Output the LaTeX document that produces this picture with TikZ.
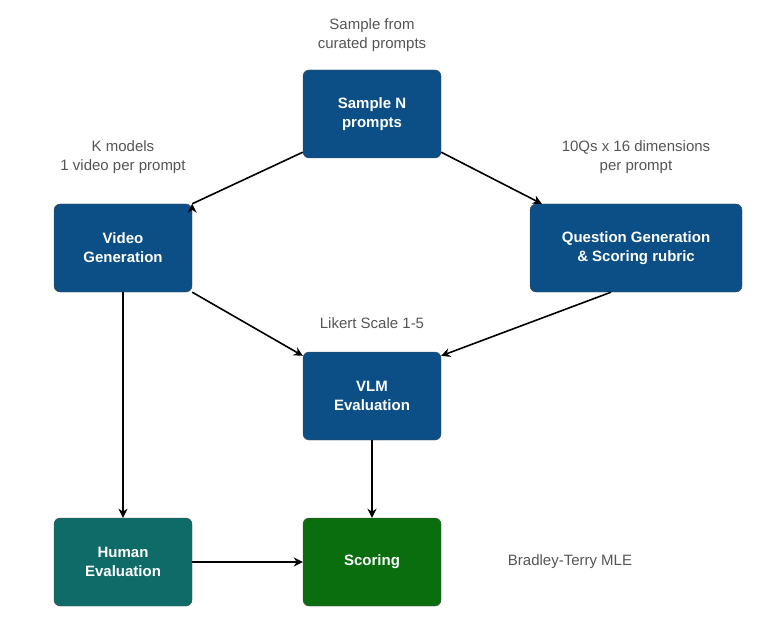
\documentclass[tikz,border=0pt]{standalone}
\usepackage{fontspec}
\setmainfont{Liberation Sans}
\usetikzlibrary{arrows.meta}
\definecolor{boxblue}{HTML}{0B4F86}
\definecolor{boxteal}{HTML}{0F6B68}
\definecolor{boxgreen}{HTML}{0A6E0F}
\definecolor{notegray}{HTML}{555555}
\tikzset{
  stage/.style={draw=black!70,fill=boxblue,rounded corners=6pt,minimum width=138pt,minimum height=88pt,
    text=white,font=\bfseries\fontsize{15}{19}\selectfont,align=center},
  note/.style={text=notegray,font=\fontsize{15}{19}\selectfont,align=center},
  flow/.style={-{Stealth[length=9pt,width=9pt]},line width=1.6pt}
}
\begin{document}
\begin{tikzpicture}[x=1pt,y=1pt]
	\useasboundingbox (0,0) rectangle (762,630);
	
	%Etapes
	\node[stage] (sample) at (372,516) {Sample N\\prompts};
	\node[stage] (video) at (123,382) {Video\\Generation};
	\node[stage,minimum width=212pt] (quest) at (636,382) {Question Generation\\\& Scoring rubric};
	\node[stage] (vlm) at (372,234) {VLM\\Evaluation};
	\node[stage,fill=boxteal] (human) at (123,68) {Human\\Evaluation};
	\node[stage,fill=boxgreen] (score) at (372,68) {Scoring};
	
	%Annotations
	\node[note] (nsample) at (372,595) {Sample from\\curated prompts};
	\node[note] (nvideo) at (123,473) {K models\\1 video per prompt};
	\node[note] (nquest) at (636,473) {10Qs x 16 dimensions\\per prompt};
	\node[note] (nvlm) at (372,307) {Likert Scale 1-5};
	\node[note] (nscore) at (570,68) {Bradley-Terry MLE};
	
	%Fleches
	\draw[flow] (sample.south west) ++(0,6) -- (video.north east) ++(0,0);
	\draw[flow] ([yshift=6pt]sample.south east) -- ([xshift=12pt]quest.north west);
	\draw[flow] (video.south east) -- ([yshift=-4pt]vlm.north west);
	\draw[flow] ([xshift=-25pt]quest.south) -- ([yshift=-4pt]vlm.north east);
	\draw[flow] (video) -- (human);
	\draw[flow] (vlm) -- (score);
	\draw[flow] (human) -- (score);
\end{tikzpicture}
\end{document}
